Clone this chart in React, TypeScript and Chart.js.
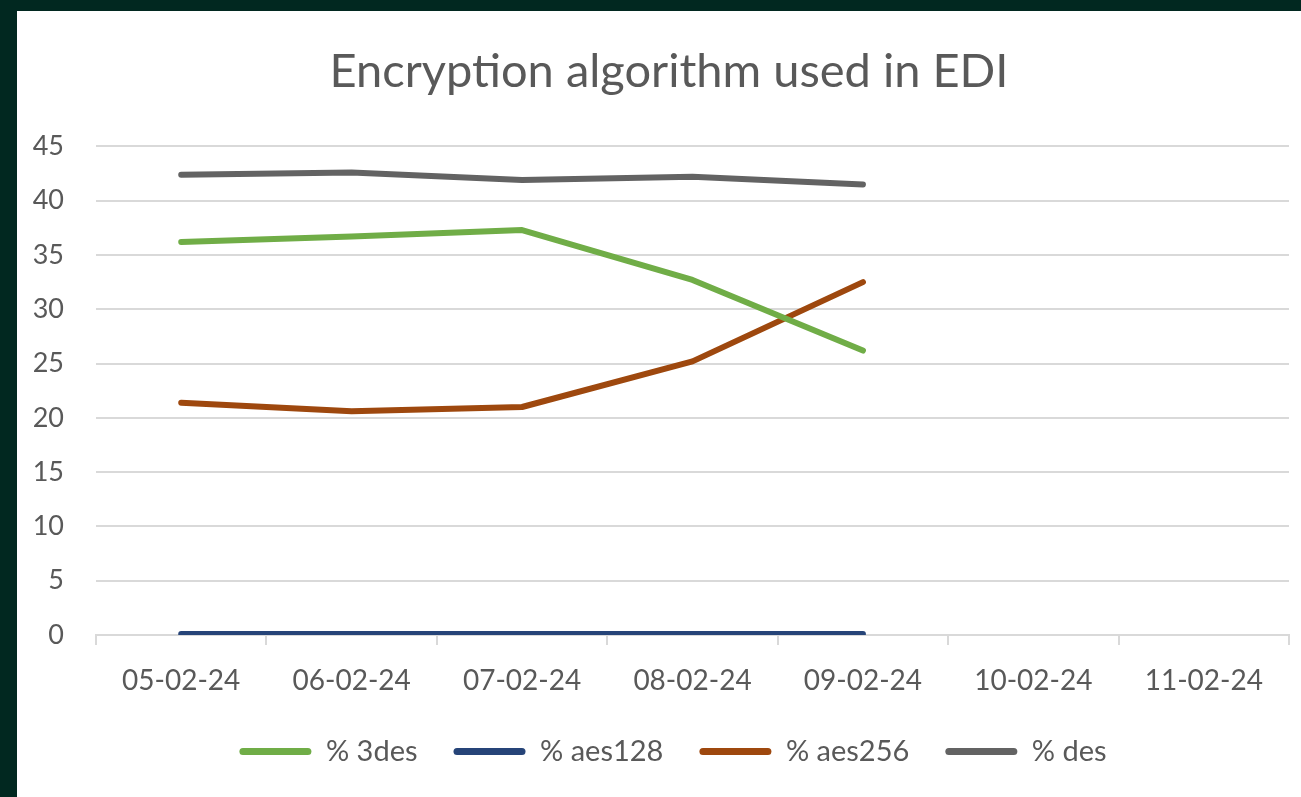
import React, { useEffect, useRef } from "react";
import { Chart, registerables } from "chart.js";

Chart.register(...registerables);

const categories = ["05-02-24", "06-02-24", "07-02-24", "08-02-24", "09-02-24", "10-02-24", "11-02-24"];
const series3des = [36.2, 36.7, 37.3, 32.7, 26.2, null, null];
const seriesAes128 = [0.1, 0.1, 0.1, 0.1, 0.1, null, null];
const seriesAes256 = [21.4, 20.6, 21.0, 25.2, 32.5, null, null];
const seriesDes = [42.4, 42.6, 41.9, 42.2, 41.5, null, null];
const seriesNames = ["% 3des", "% aes128", "% aes256", "% des"];
const seriesColors = ["#70AD47", "#264478", "#9E480E", "#636363"];
const yTicks = [0, 5, 10, 15, 20, 25, 30, 35, 40, 45];

const FONT = "Lato, 'Noto Sans', sans-serif";
const TEXT = "#595959";
const GRID = "#D9D9D9";

const shiftBlocks = {
  id: "shiftBlocks",
  afterLayout(chart: any) {
    const t = chart.titleBlock;
    if (t) {
      t.left += 16;
      t.right += 16;
    }
    const l = chart.legend;
    if (l) {
      l.left += 20;
      l.right += 20;
    }
  },
};

export default function App() {
  const ref = useRef<HTMLCanvasElement | null>(null);

  useEffect(() => {
    if (!ref.current) return;
    const values = [series3des, seriesAes128, seriesAes256, seriesDes];
    const chart = new Chart(ref.current, {
      type: "line",
      data: {
        labels: categories,
        datasets: values.map((v, i) => ({
          label: seriesNames[i],
          data: v,
          borderColor: seriesColors[i],
          backgroundColor: seriesColors[i],
          borderWidth: 6,
          borderCapStyle: "round",
          borderJoinStyle: "round",
          pointRadius: 0,
          pointHoverRadius: 0,
          tension: 0,
          spanGaps: false,
        })),
      },
      plugins: [shiftBlocks],
      options: {
        responsive: false,
        animation: false,
        devicePixelRatio: 1,
        layout: { padding: { left: 0, right: 12, top: 0, bottom: 21 } },
        scales: {
          x: {
            type: "category",
            offset: true,
            grid: {
              offset: true,
              drawOnChartArea: false,
              drawTicks: true,
              tickLength: 10,
              color: GRID,
              lineWidth: 2,
            },
            border: { display: true, color: GRID, width: 2 },
            ticks: {
              color: TEXT,
              font: { family: FONT, size: 28 },
              maxRotation: 0,
              autoSkip: false,
              padding: 19,
            },
            afterFit: (scale: any) => {
              scale.height = 66;
            },
          },
          y: {
            min: 0,
            max: 45,
            afterBuildTicks: (scale: any) => {
              scale.ticks = yTicks.map((v) => ({ value: v }));
            },
            grid: { color: GRID, lineWidth: 2, drawTicks: false },
            border: { display: false },
            ticks: {
              color: TEXT,
              font: { family: FONT, size: 27 },
              padding: 32,
            },
            afterFit: (scale: any) => {
              scale.width = 79;
            },
          },
        },
        plugins: {
          title: {
            display: true,
            text: "Encryption algorithm used in EDI",
            color: TEXT,
            font: { family: FONT, size: 47, weight: "normal" },
            padding: { top: 33, bottom: 46 },
          },
          legend: {
            display: true,
            position: "bottom",
            labels: {
              color: TEXT,
              font: { family: FONT, size: 29 },
              boxWidth: 72,
              boxHeight: 7,
              padding: 36,
              useBorderRadius: true,
              borderRadius: 3.5,
              generateLabels: (c: any) =>
                Chart.defaults.plugins.legend.labels
                  .generateLabels(c)
                  .map((l: any) => ({ ...l, lineWidth: 0, strokeStyle: "transparent" })),
            },
          },
          tooltip: { enabled: false },
        },
      } as any,
    });
    return () => chart.destroy();
  }, []);

  return (
    <div
      style={{
        position: "fixed",
        left: 0,
        top: 0,
        width: 1301,
        height: 797,
        background: "#012820",
      }}
    >
      <div
        style={{
          position: "absolute",
          left: 17,
          top: 11,
          width: 1284,
          height: 786,
          background: "#FFFFFF",
        }}
      >
        <canvas ref={ref} width={1284} height={786} style={{ display: "block" }} />
      </div>
    </div>
  );
}
